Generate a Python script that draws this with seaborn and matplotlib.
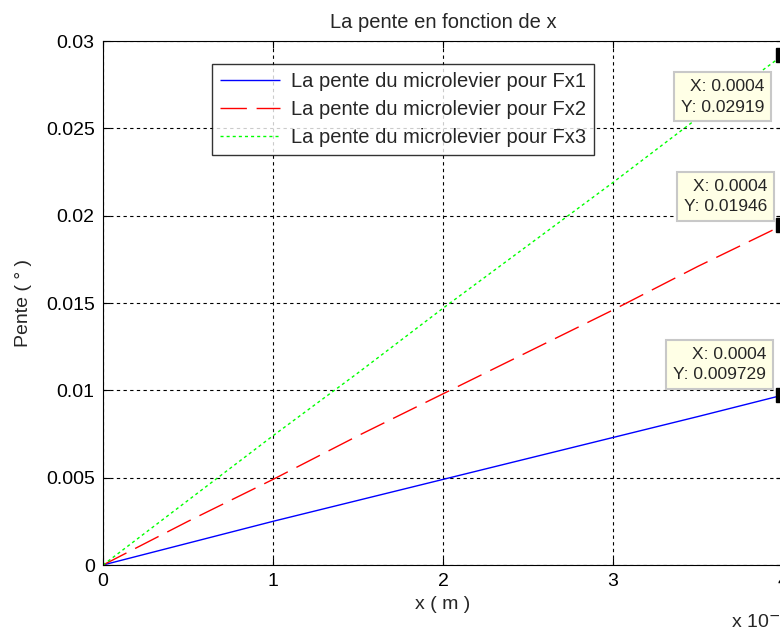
import pandas as pd
import numpy as np
import matplotlib
matplotlib.use('Agg')
import matplotlib.pyplot as plt
import seaborn as sns

# ── Data ──────────────────────────────────────────────────────────────────────
x_m = [0, 0.5e-4, 1e-4, 1.5e-4, 2e-4, 2.5e-4, 3e-4, 3.5e-4, 4e-4]
pente_fx1 = [0, 0.00125, 0.0025, 0.0037, 0.0049, 0.0061, 0.0073, 0.0085, 0.009729]
pente_fx2 = [0, 0.0025, 0.0049, 0.0074, 0.0098, 0.0122, 0.0146, 0.0171, 0.01946]
pente_fx3 = [0, 0.0037, 0.0074, 0.0110, 0.0147, 0.0183, 0.0219, 0.0256, 0.02919]
labels = ['La pente du microlevier pour Fx1',
          'La pente du microlevier pour Fx2',
          'La pente du microlevier pour Fx3']
x_ticks = [0, 1e-4, 2e-4, 3e-4, 4e-4]
x_ticklabels = ['0', '1', '2', '3', '4']
y_ticks = [0, 0.005, 0.01, 0.015, 0.02, 0.025, 0.03]
y_ticklabels = ['0', '0.005', '0.01', '0.015', '0.02', '0.025', '0.03']
tips = [('0.0004', '0.02919'), ('0.0004', '0.01946'), ('0.0004', '0.009729')]

df = pd.DataFrame({
    'x': x_m * 3,
    'pente': pente_fx1 + pente_fx2 + pente_fx3,
    'serie': [labels[0]] * len(x_m) + [labels[1]] * len(x_m) + [labels[2]] * len(x_m),
})

sns.set_theme(style='white')
plt.rcParams['font.family'] = ['Liberation Sans', 'DejaVu Sans']

fig = plt.figure(figsize=(7.8, 6.32), dpi=100)
ax = fig.add_axes([103 / 780, 67 / 632, 680 / 780, 524 / 632])

colors = ['#0000ff', '#ff0000', '#00ff00']
dashes = [(1, 0), (19, 7), (2.2, 2.2)]
sns.lineplot(data=df, x='x', y='pente', hue='serie', style='serie',
             palette=colors, dashes=dashes, linewidth=1.0, ax=ax,
             legend=False, sort=False)

# data tips
ends = [pente_fx3[-1], pente_fx2[-1], pente_fx1[-1]]
offsets = [(-19, -24, 'top'), (-16, 11, 'bottom'), (-17, 13, 'bottom')]
for (tx, ty), yv, (dx, dy, va) in zip(tips, ends, offsets):
    ax.plot([x_m[-1]], [yv], marker='s', color='black', markersize=10, clip_on=False, zorder=5)
    ax.annotate(f'X: {tx}\nY: {ty}', xy=(x_m[-1], yv), xytext=(dx, dy),
                textcoords='offset pixels', ha='right', va=va, fontsize=12.5,
                multialignment='right', linespacing=1.45,
                bbox=dict(boxstyle='square,pad=0.4', fc='#ffffe6', ec='#c8c8c8', lw=1.5),
                annotation_clip=False, zorder=6)

ax.set_xlim(0, 4e-4)
ax.set_ylim(0, 0.03)
ax.set_xticks(x_ticks)
ax.set_xticklabels(x_ticklabels)
ax.set_yticks(y_ticks)
ax.set_yticklabels(y_ticklabels)
ax.tick_params(direction='in', length=5, width=0.8, colors='black', labelsize=14,
               top=True, right=True, bottom=True, left=True, pad=6)
ax.grid(True, color='black', linestyle=(0, (3, 3)), linewidth=0.8)
for s in ax.spines.values():
    s.set_color('black')
    s.set_linewidth(0.8)

ax.set_title('La pente en fonction de x', fontsize=14.5, pad=9)
ax.set_xlabel('x ( m )', fontsize=14, labelpad=4)
ax.set_ylabel('Pente ( ° )', fontsize=14, labelpad=10)
fig.text(731 / 780, 1 - 621 / 632, r'x 10$^{-4}$', fontsize=14, ha='left', va='center')

# legend built from the drawn lines
handles = ax.get_lines()[:3]
leg = ax.legend(handles, labels, loc='upper left', bbox_to_anchor=(109 / 680, 1 - 23 / 524),
                fontsize=14.5, frameon=True, fancybox=False, edgecolor='black',
                borderpad=0.4, handlelength=3.0, handletextpad=0.5,
                labelspacing=0.45, borderaxespad=0)
leg.get_frame().set_linewidth(1.0)

plt.savefig('out.png', dpi=100)
plt.close()
